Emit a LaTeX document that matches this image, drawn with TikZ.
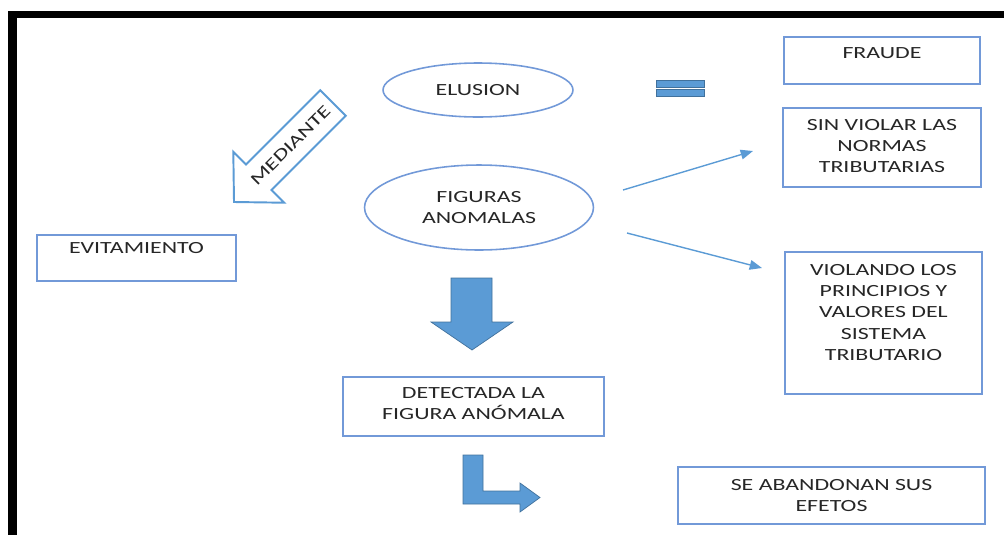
\documentclass[tikz,border=0pt]{standalone}
\usepackage{fontspec}
\setmainfont{Carlito}[FakeStretch=1.4]
\usetikzlibrary{positioning,shapes.geometric,arrows.meta}
\definecolor{lineblue}{RGB}{114,153,216}
\definecolor{fillblue}{RGB}{91,155,213}
\definecolor{edgeblue}{RGB}{65,113,156}
\definecolor{textgray}{RGB}{38,38,38}
\tikzset{
  box/.style={draw=lineblue, line width=0.9pt, inner sep=0pt},
  oval/.style={ellipse, draw=lineblue, line width=0.9pt, text=textgray, align=center, inner sep=0pt},
  boxtext/.style={text=textgray, align=center, inner sep=0pt},
  thinarrow/.style={draw=fillblue, line width=0.8pt, -{Triangle[length=7pt,width=5.5pt]}},
  block/.style={fill=fillblue, draw=edgeblue, line width=0.4pt}
}
\begin{document}
\begin{tikzpicture}[x=0.02cm, y=-0.02cm, font=\fontsize{9.7}{12.2}\selectfont]
  \useasboundingbox (0,0) rectangle (1004,535);
  % frame
  \fill[black] (8,11) rectangle (1004,17.5);
  \fill[black] (8,11) rectangle (17,535);

  % ovals
  \node[oval, minimum width=3.8cm, minimum height=1.08cm] (elusion) at (478,90) {ELUSION};
  \node[oval, minimum width=4.58cm, minimum height=1.7cm] (figuras) at (479,207.5) {FIGURAS\\ANOMALAS};

  % boxes
  \node[box, minimum width=3.92cm, minimum height=0.94cm] (fraude) at (882,60.5) {};
  \node[box, minimum width=3.96cm, minimum height=1.58cm] (sinviolar) at (882,147.5) {};
  \node[box, minimum width=3.94cm, minimum height=2.84cm] (violando) at (883.5,323) {};
  \node[box, minimum width=3.98cm, minimum height=0.92cm] (evitamiento) at (136.5,258) {};
  \node[box, minimum width=5.22cm, minimum height=1.18cm] (detectada) at (473.5,406.5) {};
  \node[box, minimum width=6.14cm, minimum height=1.14cm] (abandonan) at (831.5,495.5) {};

  \node[boxtext, below=6.3pt of fraude.north] (fraudetxt) {FRAUDE};
  \node[boxtext, below=6.5pt of sinviolar.north] (sinviolartxt) {SIN VIOLAR LAS\\NORMAS\\TRIBUTARIAS};
  \node[boxtext, below=7.1pt of violando.north] (violandotxt) {VIOLANDO LOS\\PRINCIPIOS Y\\VALORES DEL\\SISTEMA\\TRIBUTARIO};
  \node[boxtext, below=4.3pt of evitamiento.north] (evitamientotxt) {EVITAMIENTO};
  \node[boxtext, below=6pt of detectada.north] (detectadatxt) {DETECTADA LA\\FIGURA ANÓMALA};
  \node[boxtext, below=7.1pt of abandonan.north] (abandonantxt) {SE ABANDONAN SUS\\EFETOS};

  % equals sign
  \filldraw[block] (656,80) rectangle (704,87);
  \filldraw[block] (656,89) rectangle (704,96);

  % thin arrows
  \coordinate (up0) at (623,190);
  \coordinate (up1) at (753,151);
  \coordinate (dn0) at (627,233);
  \coordinate (dn1) at (762,268);
  \draw[thinarrow] (up0) -- (up1);
  \draw[thinarrow] (dn0) -- (dn1);

  % mediante arrow
  \begin{scope}[shift={(333,103)}, rotate=225, y=0.02cm]
    \draw[draw=fillblue, fill=white, line width=1.1pt, line join=miter]
      (0,-18) -- (105,-18) -- (105,-36) -- (140,0) -- (105,36) -- (105,18) -- (0,18) -- cycle;
    \node[boxtext, rotate=45] (mediante) at (60,0) {MEDIANTE};
  \end{scope}

  % down arrow
  \filldraw[block] (451,278) -- (492,278) -- (492,322) -- (513,322) -- (472,350)
    -- (431,322) -- (451,322) -- cycle;

  % bent arrow
  \filldraw[block] (463,455) -- (483,455) -- (483,491) -- (520,491) -- (520,483)
    -- (540,497.5) -- (520,512) -- (520,504) -- (463,504) -- cycle;
\end{tikzpicture}
\end{document}
